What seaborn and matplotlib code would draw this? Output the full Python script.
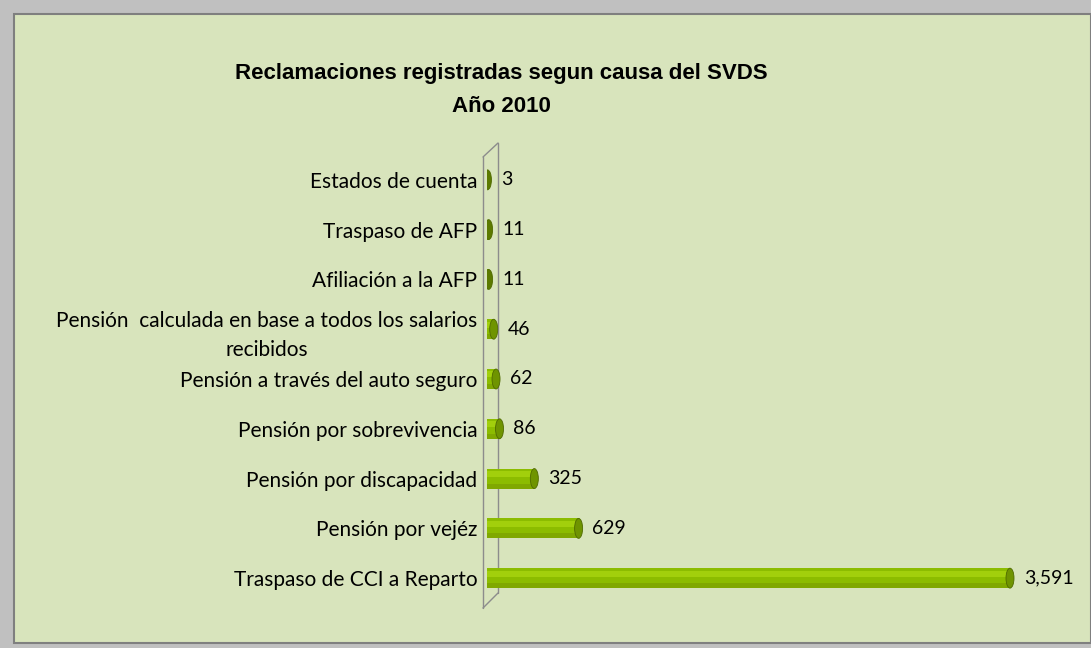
import numpy as np
import pandas as pd
import matplotlib
matplotlib.use('Agg')
import matplotlib.pyplot as plt
import seaborn as sns
from matplotlib.patches import Rectangle, Ellipse
from matplotlib.lines import Line2D

# data
categories = [
    'Estados de cuenta',
    'Traspaso de AFP',
    'Afiliación a la AFP',
    'Pensión  calculada en base a todos los salarios\nrecibidos',
    'Pensión a través del auto seguro',
    'Pensión por sobrevivencia',
    'Pensión por discapacidad',
    'Pensión por vejéz',
    'Traspaso de CCI a Reparto',
]
reclamaciones = [3, 11, 11, 46, 62, 86, 325, 629, 3591]
title_lines = ['Reclamaciones registradas segun causa del SVDS', 'Año 2010']

df = pd.DataFrame({'Causa': categories, 'Reclamaciones': reclamaciones})

sns.set_style('white')
plt.rcParams['font.family'] = ['Lato', 'DejaVu Sans']
plt.rcParams['text.color'] = 'black'
plt.rcParams['ytick.color'] = 'black'

W, H = 1091, 648
fig = plt.figure(figsize=(W / 100, H / 100), dpi=100, facecolor='#c0c0c0')

# inner chart panel
panel = Rectangle((14 / W, 5 / H), 1 - 14 / W, 1 - 19 / H, transform=fig.transFigure,
                  facecolor='#d8e4bc', edgecolor='#7f7f7f', linewidth=1.5, zorder=-5)
fig.patches.append(panel)

x0, x1 = 487, 1080
ax = fig.add_axes([x0 / W, 1 - 613 / H, (x1 - x0) / W, (613 - 145) / H])
ax.set_facecolor('none')
ax.set_zorder(2)

sns.barplot(data=df, x='Reclamaciones', y='Causa', orient='h', color='#8cbc00',
            width=0.4, saturation=1, ax=ax)

px_per_unit = 523 / 3591
ax.set_xlim(0, (x1 - x0) / px_per_unit)
ax.set_ylim(len(categories) - 0.3, -0.7)

# cylinder shading and end caps
cap_w = 8 / px_per_unit
for p in ax.patches[:len(categories)]:
    xx, yy, w, h = p.get_x(), p.get_y(), p.get_width(), p.get_height()
    p.set_edgecolor('none')
    ax.add_patch(Rectangle((xx, yy + h * 0.12), w, h * 0.3, facecolor='#a2cf0c',
                           edgecolor='none', zorder=3))
    ax.add_patch(Rectangle((xx, yy + h * 0.75), w, h * 0.25, facecolor='#80a800',
                           edgecolor='none', zorder=3))
    cap = '#6f9400' if w > 30 else '#5c7a00'
    ax.add_patch(Ellipse((xx + w, yy + h / 2), cap_w, h, facecolor=cap,
                         edgecolor='#4f6a00', linewidth=0.6, zorder=4))

ax.bar_label(ax.containers[0], labels=[f'{v:,.0f}' for v in reclamaciones],
             padding=10, fontsize=14, color='black')

ax.set_xlabel('')
ax.set_ylabel('')
ax.set_xticks([])
ax.tick_params(axis='y', length=0, pad=7, labelsize=15)
for t in ax.get_yticklabels():
    t.set_multialignment('center')
    t.set_linespacing(1.55)
sns.despine(ax=ax, left=True, bottom=True)

# 3D axis wall
wall = '#8c8c8c'
pts = [((483, 157), (483, 608)), ((498, 143), (498, 593)),
       ((483, 157), (498, 143)), ((483, 608), (498, 593))]
for (ax_, ay_), (bx_, by_) in pts:
    fig.add_artist(Line2D([ax_ / W, bx_ / W], [1 - ay_ / H, 1 - by_ / H],
                          transform=fig.transFigure, color=wall, linewidth=1, zorder=1))

fig.text(501 / W, 1 - 73 / H, title_lines[0], ha='center', va='center',
         fontsize=16, fontweight='bold', family='Liberation Sans', color='black')
fig.text(501 / W, 1 - 107 / H, title_lines[1], ha='center', va='center',
         fontsize=16, fontweight='bold', family='Liberation Sans', color='black')

fig.savefig('out.png', dpi=100, facecolor=fig.get_facecolor())
